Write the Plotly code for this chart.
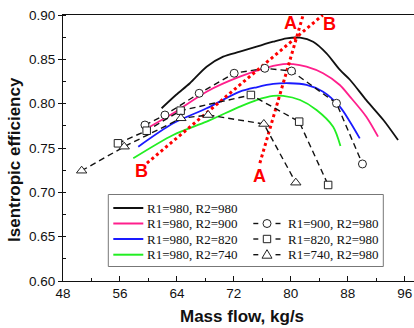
import plotly.graph_objects as go

# ---------------- data ----------------
black_x = [61.85, 63.9, 65.82, 68.17, 70.5, 72.84, 75.19, 77.52, 79.4, 81.3, 83.13, 85.01, 86.9, 88.3, 90.6, 93.0, 95.06]
black_y = [0.7948, 0.810, 0.8230, 0.8417, 0.8530, 0.8586, 0.8643, 0.8699, 0.8737, 0.8744, 0.8699, 0.8568, 0.838, 0.827, 0.804, 0.7816, 0.759]

pink_x = [60.21, 63.48, 68.17, 72.84, 77.52, 78.92, 80.32, 82.2, 84.53, 86.88, 88.3, 90.6, 92.25]
pink_y = [0.774, 0.7891, 0.8135, 0.8304, 0.8425, 0.8447, 0.8447, 0.8417, 0.8343, 0.8211, 0.808, 0.7853, 0.7628]

blue_x = [58.57, 63.48, 68.17, 72.84, 75.19, 77.52, 79.86, 82.2, 84.53, 86.88, 88.3, 89.68]
blue_y = [0.7515, 0.7779, 0.7948, 0.8135, 0.8185, 0.8222, 0.8230, 0.8211, 0.8135, 0.7966, 0.7797, 0.7609]

green_x = [57.87, 63.48, 68.17, 72.84, 75.19, 77.52, 78.92, 81.3, 83.61, 85.94, 86.97]
green_y = [0.7384, 0.7647, 0.7797, 0.7966, 0.8041, 0.8087, 0.8087, 0.8041, 0.7929, 0.7740, 0.7523]

circ_x = [59.51, 62.32, 67.13, 72.04, 76.35, 80.10, 86.41, 90.06]
circ_y = [0.7759, 0.7872, 0.8117, 0.8343, 0.8399, 0.8368, 0.8004, 0.7320]

sq_x = [55.72, 59.75, 64.52, 74.39, 81.17, 85.24]
sq_y = [0.7553, 0.7695, 0.7921, 0.8098, 0.7797, 0.7083]

tri_x = [50.62, 56.60, 64.56, 68.39, 76.21, 80.70]
tri_y = [0.7244, 0.7515, 0.7835, 0.7872, 0.7771, 0.7109]

lineA_x = [75.65, 81.73]
lineA_y = [0.7329, 0.90]
lineB_x = [59.79, 84.49]
lineB_y = [0.7329, 0.90]

solid_names = ["R1=980, R2=980", "R1=980, R2=900", "R1=980, R2=820", "R1=980, R2=740"]
dashed_names = ["R1=900, R2=980", "R1=820, R2=980", "R1=740, R2=980"]

x_ticks = [48, 56, 64, 72, 80, 88, 96]
y_ticks = [0.60, 0.65, 0.70, 0.75, 0.80, 0.85, 0.90]

# ---------------- styles ----------------
W, H = 414, 328
ML, MR, MT, MB = 63, 0, 15, 47
PW, PH = W - ML - MR, H - MT - MB

def X(px):
    return (px - ML) / PW

def Y(py):
    return (H - MB - py) / PH

colors = ["#111111", "#ff1f8c", "#1a1aff", "#22ee22"]
SANS = "Arial, Liberation Sans, sans-serif"
SERIF = "Times New Roman, Liberation Serif, serif"

fig = go.Figure()

for xs, ys, c, n in zip([black_x, pink_x, blue_x, green_x],
                        [black_y, pink_y, blue_y, green_y], colors, solid_names):
    fig.add_trace(go.Scatter(x=xs, y=ys, mode="lines", name=n,
                             line=dict(color=c, width=1.8, shape="spline", smoothing=0.8),
                             showlegend=False))

fig.add_trace(go.Scatter(x=lineA_x, y=lineA_y, mode="lines", showlegend=False,
                         line=dict(color="#ff0000", width=3, dash="dot")))
fig.add_trace(go.Scatter(x=lineB_x, y=lineB_y, mode="lines", showlegend=False,
                         line=dict(color="#ff0000", width=3, dash="dot")))

for xs, ys, sym, sz, n in zip([circ_x, sq_x, tri_x], [circ_y, sq_y, tri_y],
                              ["circle", "square", "triangle-up"], [8, 7.5, 9], dashed_names):
    fig.add_trace(go.Scatter(x=xs, y=ys, mode="lines+markers", name=n, showlegend=False,
                             line=dict(color="#111111", width=1.4, dash="6px,4px"),
                             marker=dict(symbol=sym, size=sz, color="white",
                                         line=dict(color="#222222", width=1))))

shapes = []
annotations = []

# legend box
shapes.append(dict(type="rect", xref="paper", yref="paper",
                   x0=X(108.3), x1=X(383.3), y0=Y(266.5), y1=Y(194.5),
                   line=dict(color="#777777", width=1), fillcolor="white", layer="above"))
rows = [208, 223.5, 239, 254.7]
for r, c, n in zip(rows, colors, solid_names):
    shapes.append(dict(type="line", xref="paper", yref="paper",
                       x0=X(113.3), x1=X(143.3), y0=Y(r), y1=Y(r),
                       line=dict(color=c, width=2), layer="above"))
    annotations.append(dict(x=X(145), y=Y(r), xref="paper", yref="paper", text=n,
                            showarrow=False, xanchor="left", yanchor="middle",
                            font=dict(family=SERIF, size=13, color="#111111")))
for r, n, kind in zip(rows[1:], dashed_names, ["circle", "square", "triangle"]):
    for a, b in [(253.3, 258.3), (275.5, 280.5)]:
        shapes.append(dict(type="line", xref="paper", yref="paper",
                           x0=X(a), x1=X(b), y0=Y(r), y1=Y(r),
                           line=dict(color="#111111", width=1.4), layer="above"))
    cx = 267
    if kind == "circle":
        shapes.append(dict(type="circle", xref="paper", yref="paper",
                           x0=X(cx - 4), x1=X(cx + 4), y0=Y(r + 4), y1=Y(r - 4),
                           line=dict(color="#222222", width=1), layer="above"))
    elif kind == "square":
        shapes.append(dict(type="rect", xref="paper", yref="paper",
                           x0=X(cx - 3.7), x1=X(cx + 3.7), y0=Y(r + 3.7), y1=Y(r - 3.7),
                           line=dict(color="#222222", width=1), layer="above"))
    else:
        p = "M{},{} L{},{} L{},{} Z".format(X(cx), Y(r - 5), X(cx - 5), Y(r + 3.5),
                                           X(cx + 5), Y(r + 3.5))
        shapes.append(dict(type="path", xref="paper", yref="paper", path=p,
                           line=dict(color="#222222", width=1), layer="above"))
    annotations.append(dict(x=X(286), y=Y(r), xref="paper", yref="paper", text=n,
                            showarrow=False, xanchor="left", yanchor="middle",
                            font=dict(family=SERIF, size=13, color="#111111")))

# red labels
for t, px, py in [("A", 290.8, 23.5), ("B", 329, 24.5), ("B", 141.8, 171), ("A", 259, 176.3)]:
    annotations.append(dict(x=X(px), y=Y(py), xref="paper", yref="paper", text="<b>%s</b>" % t,
                            showarrow=False, xanchor="center", yanchor="middle",
                            font=dict(family=SANS, size=18, color="#ff0000")))

# axis titles
annotations.append(dict(x=X(14), y=Y(160), xref="paper", yref="paper",
                        text="<b>Isentropic efficiency</b>", textangle=-90, showarrow=False,
                        xanchor="center", yanchor="middle",
                        font=dict(family=SANS, size=17, color="#111111")))
annotations.append(dict(x=X(241.5), y=Y(316), xref="paper", yref="paper",
                        text="<b>Mass flow, kg/s</b>", showarrow=False,
                        xanchor="center", yanchor="middle",
                        font=dict(family=SANS, size=17, color="#111111")))

fig.update_layout(
    width=W, height=H, autosize=False,
    margin=dict(l=ML, r=MR, t=MT, b=MB, pad=0),
    paper_bgcolor="white", plot_bgcolor="white",
    showlegend=False, hovermode=False,
    shapes=shapes, annotations=annotations,
    font=dict(family=SANS, size=13.5, color="#111111"),
    xaxis=dict(range=[48, 97.3], tickvals=x_ticks, ticktext=[str(v) for v in x_ticks],
               showgrid=False, zeroline=False, showline=True, linecolor="#111111",
               linewidth=1, mirror=True, ticks="inside", ticklen=5, tickcolor="#111111",
               minor=dict(dtick=4, ticks="inside", ticklen=3, tickcolor="#111111"),
               tickfont=dict(family=SANS, size=13.5, color="#111111")),
    yaxis=dict(range=[0.60, 0.90], tickvals=y_ticks, ticktext=["%.2f" % v for v in y_ticks],
               showgrid=False, zeroline=False, showline=True, linecolor="#111111",
               linewidth=1, mirror=False, ticks="outside", ticklen=4, tickcolor="#111111",
               minor=dict(dtick=0.025, ticks="inside", ticklen=3, tickcolor="#111111"),
               tickfont=dict(family=SANS, size=13.5, color="#111111")),
)

fig.write_html("out.html", config={"displayModeBar": False, "staticPlot": True},
               post_script="document.body.style.margin='0';document.body.style.overflow='hidden';")
